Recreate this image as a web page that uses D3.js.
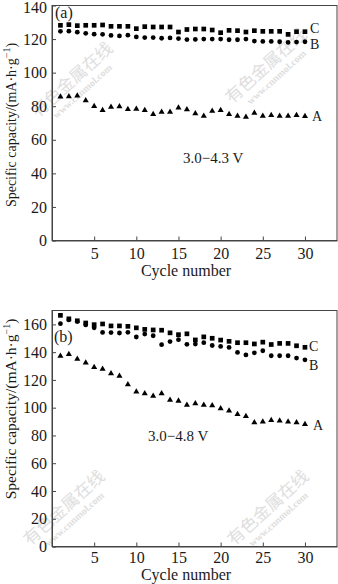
<!DOCTYPE html>
<html>
<head>
<meta charset="utf-8">
<script src="https://cdn.jsdelivr.net/npm/d3@7"></script>
<style>
  html, body { margin: 0; padding: 0; background: #fff; }
  svg { display: block; }
</style>
</head>
<body>
<svg id="chart" width="338" height="584"></svg>
<script>
// ---------- DATA ----------
const cycles = [1,2,3,4,5,6,7,8,9,10,11,12,13,14,15,16,17,18,19,20,21,22,23,24,25,26,27,28,29,30];
const xTicks = [5, 10, 15, 20, 25, 30];

// Panel (a): 3.0–4.3 V
const yTicksA = [0, 20, 40, 60, 80, 100, 120, 140];
const a_seriesA = [85.6, 85.8, 86.2, 83.4, 80.0, 77.6, 79.6, 79.8, 78.2, 78.3, 77.6, 75.2, 76.6, 76.6, 79.1, 78.1, 75.6, 74.2, 77.2, 77.6, 75.2, 74.2, 73.6, 76.0, 74.2, 74.6, 74.2, 74.2, 74.6, 74.0];
const a_seriesB = [124.6, 124.7, 124.1, 123.4, 122.9, 122.8, 122.2, 121.9, 122.3, 121.3, 120.9, 120.9, 120.5, 120.7, 120.3, 119.7, 119.8, 120.0, 120.0, 120.0, 119.6, 119.6, 120.0, 118.8, 118.6, 118.6, 118.4, 118.0, 118.2, 118.4];
const a_seriesC = [128.2, 128.6, 128.0, 128.2, 128.2, 128.4, 127.6, 127.6, 127.6, 126.2, 127.4, 127.2, 127.2, 127.2, 124.2, 125.7, 126.0, 126.0, 125.4, 123.8, 125.2, 125.0, 124.2, 125.0, 124.6, 124.6, 124.6, 122.8, 124.4, 124.4];

// Panel (b): 3.0–4.8 V
const yTicksB = [0, 20, 40, 60, 80, 100, 120, 140, 160];
const b_seriesA = [137.3, 138.5, 135.1, 132.4, 129.2, 127.8, 124.6, 122.9, 116.7, 111.5, 110.2, 108.4, 110.2, 105.6, 104.9, 101.9, 103.0, 102.0, 101.6, 99.4, 97.7, 95.3, 93.9, 89.4, 89.8, 91.0, 90.5, 89.8, 89.4, 88.1];
const b_seriesB = [160.5, 163.2, 162.0, 159.6, 157.5, 154.2, 154.1, 153.8, 154.3, 150.9, 153.0, 151.8, 145.4, 147.6, 149.0, 145.6, 145.8, 146.8, 144.8, 144.1, 143.4, 139.8, 138.0, 139.5, 141.0, 137.4, 137.4, 137.4, 135.7, 134.5];
const b_seriesC = [166.5, 164.0, 162.6, 161.0, 159.8, 160.3, 158.9, 158.9, 158.6, 157.5, 156.4, 156.0, 155.8, 153.9, 152.6, 153.2, 148.8, 151.0, 150.0, 148.7, 147.8, 146.8, 146.8, 145.9, 147.2, 145.5, 146.3, 146.3, 144.6, 143.5];

const seriesNames = ["A", "B", "C"];
const xTitle = "Cycle number";

// ---------- DRAW ----------
const FONT = '"Liberation Serif", "Times New Roman", Times, serif';
const INK = "#1a1a1a";
const svg = d3.select("#chart");

const symA = d3.symbol().type(d3.symbolTriangle).size(16);
const symB = d3.symbol().type(d3.symbolCircle).size(18);
const symC = d3.symbol().type(d3.symbolSquare).size(22);

function drawPanel(cfg) {
  const g = svg.append("g");
  const x = d3.scaleLinear().domain([0, 33.8]).range([52, 337]);
  const y = d3.scaleLinear().domain(cfg.yDomain).range([cfg.bottom, cfg.top]);

  // frame
  g.append("rect")
    .attr("x", x(0)).attr("y", cfg.top)
    .attr("width", x(33.8) - x(0)).attr("height", cfg.bottom - cfg.top)
    .attr("fill", "none").attr("stroke", "#444").attr("stroke-width", 1);

  // axes
  const yAxis = d3.axisLeft(y).tickValues(cfg.yTicks).tickSizeInner(-4).tickSizeOuter(0).tickPadding(5);
  const gy = g.append("g").attr("transform", `translate(${x(0)},0)`).call(yAxis);
  const xAxis = d3.axisBottom(x).tickValues(xTicks).tickSizeInner(-4).tickSizeOuter(0).tickPadding(cfg.xPad);
  const gx = g.append("g").attr("transform", `translate(0,${cfg.bottom})`).call(xAxis);
  [gx, gy].forEach(a => {
    a.select(".domain").attr("stroke", "#444");
    a.selectAll(".tick line").attr("stroke", "#444");
    a.selectAll(".tick text").attr("fill", INK).style("font-family", FONT).style("font-size", "16px");
  });
  // keep the top tick label just inside the picture
  gy.selectAll(".tick text").filter(d => d === cfg.yDomain[1]).attr("dy", "0.45em");

  // x title
  g.append("text").attr("x", 186).attr("y", cfg.xTitleY)
    .attr("text-anchor", "middle").attr("fill", INK)
    .style("font-family", FONT).style("font-size", "16px").text(xTitle);

  // y title
  const yt = g.append("text")
    .attr("transform", `translate(16,${cfg.yTitleY}) rotate(-90)`)
    .attr("text-anchor", "middle").attr("fill", INK)
    .style("font-family", FONT).style("font-size", cfg.yTitleSize + "px");
  yt.append("tspan").text("Specific capacity/(mA\u00b7h\u00b7g");
  yt.append("tspan").attr("dy", -6).style("font-size", "10px").text("\u22121");
  yt.append("tspan").attr("dy", 6).text(")");

  // panel tag
  g.append("text").attr("x", cfg.tagX).attr("y", cfg.tagY).attr("fill", INK)
    .style("font-family", FONT).style("font-size", "16px").text(cfg.tag);

  // voltage note
  g.append("text").attr("x", cfg.noteX).attr("y", cfg.noteY).attr("fill", INK)
    .style("font-family", FONT).style("font-size", "15px").text(cfg.note);

  // series
  const sets = [
    { vals: cfg.A, sym: symA },
    { vals: cfg.B, sym: symB },
    { vals: cfg.C, sym: symC }
  ];
  sets.forEach(s => {
    g.append("g").selectAll("path").data(cycles).join("path")
      .attr("d", s.sym)
      .attr("transform", (c, i) => `translate(${x(c)},${y(s.vals[i])})`)
      .attr("fill", "#000");
  });

  // series labels
  seriesNames.forEach((n, i) => {
    g.append("text").attr("x", cfg.labX[i]).attr("y", cfg.labY[i]).attr("fill", INK)
      .style("font-family", FONT).style("font-size", "14px").text(n);
  });
}

// watermarks (faint)
function watermark(cx, cy) {
  const w = svg.append("g").attr("transform", `translate(${cx},${cy}) rotate(-42)`).attr("fill", "#dedede");
  w.append("text").attr("text-anchor", "middle").attr("y", 0)
    .style("font-family", '"Noto Sans CJK SC", sans-serif').style("font-size", "17px").text("有色金属在线");
  w.append("text").attr("text-anchor", "middle").attr("y", 13)
    .style("font-family", FONT).style("font-size", "10px").style("font-weight", "bold").text("www.cnnmol.com");
}
watermark(76, 84);
watermark(270, 70);
watermark(68, 512);
watermark(272, 512);

drawPanel({
  yDomain: [0, 140], top: 5.5, bottom: 240.5, yTicks: yTicksA, xPad: 7,
  xTitleY: 276, yTitleY: 125, yTitleSize: 14,
  tag: "(a)", tagX: 55, tagY: 18,
  note: "3.0\u22124.3 V", noteX: 183, noteY: 163,
  A: a_seriesA, B: a_seriesB, C: a_seriesC,
  labX: [312, 310, 310], labY: [121, 49, 33]
});

drawPanel({
  yDomain: [0, 170], top: 310.5, bottom: 546.5, yTicks: yTicksB, xPad: 5,
  xTitleY: 580, yTitleY: 409, yTitleSize: 15.5,
  tag: "(b)", tagX: 54, tagY: 342,
  note: "3.0\u22124.8 V", noteX: 148, noteY: 441,
  A: b_seriesA, B: b_seriesB, C: b_seriesC,
  labX: [313, 309, 309], labY: [430, 370, 351]
});
</script>
</body>
</html>
